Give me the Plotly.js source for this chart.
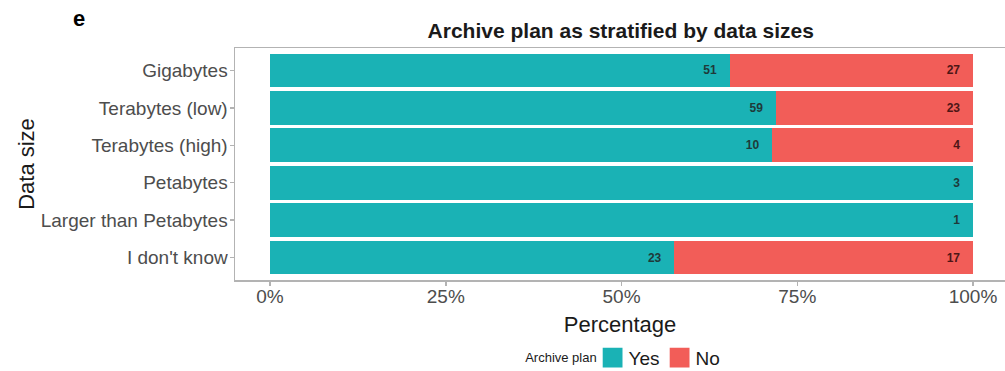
<!DOCTYPE html>
<html>
<head>
<meta charset="utf-8">
<script src="https://cdn.plot.ly/plotly-3.0.1.min.js"></script>
<style>html,body{margin:0;padding:0;background:#fff;}#chart{width:1005px;height:371px;}</style>
</head>
<body>
<div id="chart"></div>
<script>
const categories = ["Gigabytes", "Terabytes (low)", "Terabytes (high)", "Petabytes", "Larger than Petabytes", "I don't know"];
const yesCounts = [51, 59, 10, 3, 1, 23];
const noCounts = [27, 23, 4, 0, 0, 17];
const tickVals = [0, 25, 50, 75, 100];
const tickLabels = ["0%", "25%", "50%", "75%", "100%"];

const PAD = "\u00a0\u00a0\u00a0";
function labels(arr) { return arr.map(v => v > 0 ? String(v) + PAD : ""); }

const baseFont = "Liberation Sans, Arial, Helvetica, sans-serif";

const traces = [
  {
    type: "bar", orientation: "h", name: "Yes",
    y: categories, x: yesCounts,
    text: labels(yesCounts), textposition: "inside", insidetextanchor: "end",
    textfont: {family: baseFont, size: 12, color: "#1f3a3a", weight: "bold"},
    marker: {color: "#1ab2b5"}, width: 0.9,
    hoverinfo: "skip"
  },
  {
    type: "bar", orientation: "h", name: "No",
    y: categories, x: noCounts,
    text: labels(noCounts), textposition: "inside", insidetextanchor: "end",
    textfont: {family: baseFont, size: 12, color: "#4d1616", weight: "bold"},
    marker: {color: "#f25d58"}, width: 0.9,
    hoverinfo: "skip"
  }
];

const layout = {
  width: 1005, height: 371,
  margin: {l: 235, r: 0, t: 48, b: 91},
  paper_bgcolor: "#ffffff", plot_bgcolor: "#ffffff",
  barmode: "stack", barnorm: "percent",
  font: {family: baseFont, color: "#4d4d4d"},
  title: {
    text: "<b>Archive plan as stratified by data sizes</b>",
    font: {family: baseFont, size: 21, color: "#1a1a1a"},
    x: 0.501, xref: "paper", xanchor: "center",
    y: 0.918, yref: "container", yanchor: "middle"
  },
  xaxis: {
    range: [-4.98, 104.55],
    tickvals: tickVals, ticktext: tickLabels,
    tickfont: {family: baseFont, size: 19, color: "#4d4d4d"},
    ticks: "outside", ticklen: 4, tickcolor: "#b3b3b3", tickwidth: 1.5,
    ticklabelstandoff: -5,
    showgrid: false, zeroline: false,
    showline: true, mirror: true, linecolor: "#b3b3b3", linewidth: 1.5,
    title: {text: "Percentage", font: {family: baseFont, size: 22, color: "#1a1a1a"}, standoff: 10},
    automargin: false, fixedrange: true
  },
  yaxis: {
    type: "category",
    categoryorder: "array", categoryarray: categories,
    range: [5.6, -0.6],
    tickfont: {family: baseFont, size: 19, color: "#4d4d4d"},
    ticks: "outside", ticklen: 4, tickcolor: "#b3b3b3", tickwidth: 1.5,
    ticklabelstandoff: -2,
    showgrid: false, zeroline: false,
    showline: true, linecolor: "#b3b3b3", linewidth: 1.5,
    title: {text: "Data size", font: {family: baseFont, size: 22, color: "#1a1a1a"}},
    automargin: false, fixedrange: true
  },
  legend: {
    orientation: "h",
    xref: "container", yref: "container",
    x: 0.612, xanchor: "center", y: 0.087, yanchor: "top",
    title: {text: "Archive plan", font: {family: baseFont, size: 13, color: "#1a1a1a"}, side: "left"},
    font: {family: baseFont, size: 19, color: "#1a1a1a"},
    entrywidth: 22, entrywidthmode: "pixels",
    traceorder: "normal", itemclick: false, itemdoubleclick: false
  },
  annotations: [
    {text: "<b>e</b>", xref: "paper", yref: "paper", x: -0.202, y: 1.129, xanchor: "center", yanchor: "middle",
     showarrow: false, font: {family: baseFont, size: 22, color: "#000"}}
  ]
};

function fixLegend(gd) {
  let firstIconLeft = null, itemMidY = null;
  gd.querySelectorAll(".legend g.traces").forEach(function (item) {
    const txt = item.querySelector("text.legendtext");
    const paths = item.querySelectorAll(".legendpoints path");
    if (!txt || !paths.length) return;
    let bar = null;
    paths.forEach(function (p) { p.removeAttribute("transform"); if (!bar && p.getAttribute("d")) bar = p; });
    if (!bar) return;
    const tr = txt.getBoundingClientRect();
    const pr = bar.getBoundingClientRect();
    const center = (pr.left + pr.right) / 2;
    const dx = (tr.left - 6 - 10) - center;
    paths.forEach(function (p) {
      p.setAttribute("transform", "translate(" + dx.toFixed(1) + ",0) scale(1.65)");
    });
    const nr = bar.getBoundingClientRect();
    if (firstIconLeft === null || nr.left < firstIconLeft) firstIconLeft = nr.left;
    if (itemMidY === null) itemMidY = (nr.top + nr.bottom) / 2;
  });
  const title = gd.querySelector(".legend .legendtitletext");
  if (title && firstIconLeft !== null) {
    title.removeAttribute("transform");
    const r = title.getBoundingClientRect();
    const dx = (firstIconLeft - 6) - r.right;
    const dy = itemMidY - (r.top + r.bottom) / 2;
    title.setAttribute("transform", "translate(" + dx.toFixed(1) + "," + dy.toFixed(1) + ")");
  }
}

const gdEl = document.getElementById("chart");
Plotly.newPlot(gdEl, traces, layout, {displayModeBar: false, staticPlot: true}).then(function (gd) {
  fixLegend(gd);
  gd.on("plotly_afterplot", function () { fixLegend(gd); });
  setTimeout(function () { fixLegend(gd); }, 0);
  setTimeout(function () { fixLegend(gd); }, 200);
});
</script>
</body>
</html>
